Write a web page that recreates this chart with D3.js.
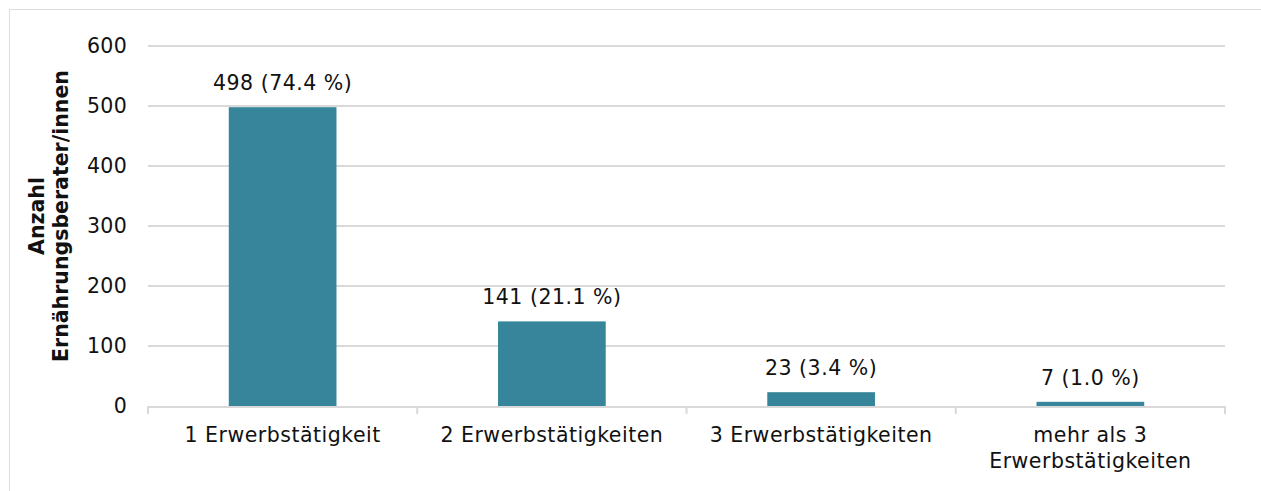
<!DOCTYPE html>
<html><head><meta charset="utf-8">
<script src="https://cdn.jsdelivr.net/npm/d3@7"></script>
<style>body{margin:0;background:#fff}svg{display:block;font-family:"DejaVu Sans",sans-serif}</style>
</head><body><svg id="c" width="1261" height="491"></svg>
<script>
const categories = ["1 Erwerbstätigkeit", "2 Erwerbstätigkeiten", "3 Erwerbstätigkeiten", "mehr als 3|Erwerbstätigkeiten"];
const values = [498, 141, 23, 7];
const percents = ["74.4", "21.1", "3.4", "1.0"];
const yTicks = [0, 100, 200, 300, 400, 500, 600];
const yTitle = ["Anzahl", "Ernährungsberater/innen"];

const svg = d3.select("#c");
svg.append("rect").attr("x", 9.5).attr("y", 9.5).attr("width", 1270).attr("height", 500)
  .attr("fill", "none").attr("stroke", "#ddd").attr("stroke-width", 1);

const m = {l: 148, r: 1225, t: 46, b: 406};
const x = d3.scaleBand().domain(categories).range([m.l, m.r]).paddingInner(0.6).paddingOuter(0.3);
const xb = d3.scaleBand().domain(categories).range([m.l, m.r]);
const y = d3.scaleLinear().domain([0, 600]).range([m.b, m.t]);

// gridlines
svg.append("g").selectAll("line").data(yTicks.filter(d => d > 0)).join("line")
  .attr("x1", m.l).attr("x2", m.r).attr("y1", d => y(d)).attr("y2", d => y(d))
  .attr("stroke", "#d9d9d9").attr("stroke-width", 2);

// y tick labels
svg.append("g").selectAll("text").data(yTicks).join("text")
  .attr("x", 127).attr("y", d => y(d)).attr("dy", "0.36em").attr("text-anchor", "end")
  .attr("font-size", 20.5).attr("letter-spacing", 0.3).attr("fill", "#111").text(d => d);

// bars
svg.append("g").selectAll("rect").data(values).join("rect")
  .attr("x", (d, i) => x(categories[i])).attr("width", x.bandwidth())
  .attr("y", d => y(d)).attr("height", d => y(0) - y(d)).attr("fill", "#37859a");

// x axis baseline
svg.append("line").attr("x1", m.l).attr("x2", m.r).attr("y1", y(0) + 1).attr("y2", y(0) + 1)
  .attr("stroke", "#d9d9d9").attr("stroke-width", 2);
const tickPos = categories.map(c => xb(c)).concat([m.r]);
svg.append("g").selectAll("line").data(tickPos).join("line")
  .attr("x1", d => d).attr("x2", d => d).attr("y1", y(0)).attr("y2", y(0) + 8)
  .attr("stroke", "#d9d9d9").attr("stroke-width", 2);

// x labels
const xl = svg.append("g").selectAll("text").data(categories).join("text")
  .attr("x", d => xb(d) + xb.bandwidth() / 2).attr("y", 442).attr("text-anchor", "middle")
  .attr("font-size", 20.5).attr("letter-spacing", 0.5).attr("fill", "#111");
xl.each(function(d) {
  const parts = d.split("|");
  parts.forEach((p, j) => d3.select(this).append("tspan").attr("x", xb(d) + xb.bandwidth() / 2)
    .attr("dy", j === 0 ? 0 : 26).text(p));
});

// data labels
svg.append("g").selectAll("text").data(values).join("text")
  .attr("x", (d, i) => x(categories[i]) + x.bandwidth() / 2).attr("y", d => y(d) - 17)
  .attr("text-anchor", "middle").attr("font-size", 20.5).attr("letter-spacing", 0.5).attr("fill", "#111")
  .text((d, i) => `${d} (${percents[i]} %)`);

// y title
const yt = svg.append("text").attr("transform", "translate(44,216) rotate(-90)")
  .attr("text-anchor", "middle").attr("font-size", 20.5).attr("font-weight", "bold").attr("fill", "#111");
yTitle.forEach((t, j) => yt.append("tspan").attr("x", 0).attr("dy", j === 0 ? 0 : 24).text(t));
</script></body></html>
